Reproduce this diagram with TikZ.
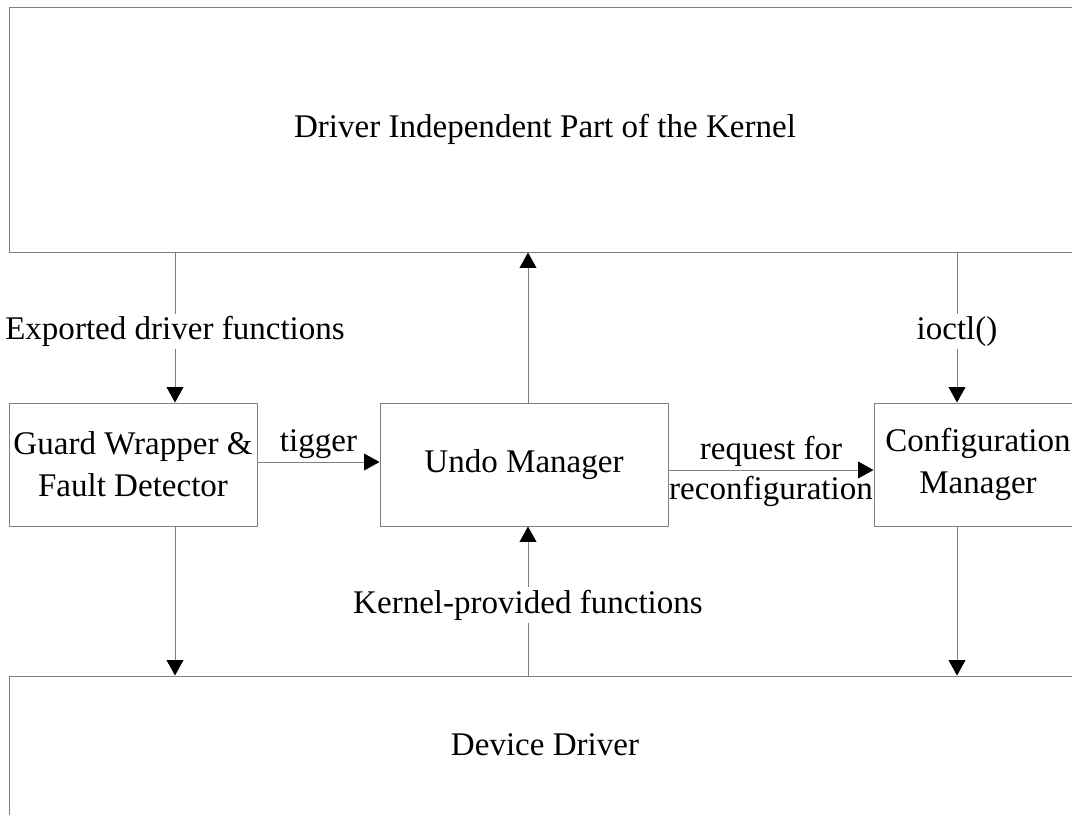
\documentclass[tikz,border=0pt]{standalone}
\usepackage{fontspec}
\setmainfont{Liberation Serif}
\usetikzlibrary{arrows.meta}
\tikzset{
	box/.style={draw=gray, line width=0.7pt, inner sep=0pt, align=center},
	arr/.style={draw=gray, line width=0.7pt, -{Triangle[black,length=11pt,width=12pt]}},
	lbl/.style={fill=white, inner sep=2pt, yshift=-0.1cm}
}
\begin{document}
\begin{tikzpicture}[font=\fontsize{23.5}{30}\selectfont]
	\clip (0,0) rectangle (26.8,-20.35);

	%Blocks:
	\node[box, minimum width=26.8cm, minimum height=6.125cm] (kernel) at (13.625,-3.2375) {Driver Independent Part of the Kernel};
	\node[box, minimum width=6.2cm, minimum height=3.075cm] (guard) at (3.325,-11.6125) {Guard Wrapper \&\\Fault Detector};
	\node[box, minimum width=7.2cm, minimum height=3.075cm] (undo) at (13.1,-11.6125) {Undo Manager};
	\node[box, minimum width=5.2cm, minimum height=3.075cm] (config) at (24.45,-11.6125) {Configuration\\Manager};
	\node[box, minimum width=26.8cm, minimum height=4.1cm] (device) at (13.625,-18.95) {};
	\node (devtext) at (13.625,-18.625) {Device Driver};

	%Columns and rows of the connectors:
	\coordinate (c1) at (4.375,0);
	\coordinate (c2) at (13.2,0);
	\coordinate (c3) at (23.925,0);
	\coordinate (r1) at (0,-11.55);
	\coordinate (r2) at (0,-11.75);

	\draw[arr] (kernel.south -| c1) -- node[lbl] {Exported driver functions} (guard.north -| c1);
	\draw[arr] (undo.north -| c2) -- (kernel.south -| c2);
	\draw[arr] (kernel.south -| c3) -- node[lbl] {ioctl()} (config.north -| c3);

	\draw[arr] (guard.south -| c1) -- (device.north -| c1);
	\draw[arr] (device.north -| c2) -- node[lbl] {Kernel-provided functions} (undo.south -| c2);
	\draw[arr] (config.south -| c3) -- (device.north -| c3);

	\draw[arr] (guard.east |- r1) -- node[above, inner sep=2pt] {tigger} (undo.west |- r1);
	\draw[arr] (undo.east |- r2) -- node[above, inner sep=2pt] {request for}
		node[below, inner sep=4pt] {reconfiguration} (config.west |- r2);
\end{tikzpicture}
\end{document}
